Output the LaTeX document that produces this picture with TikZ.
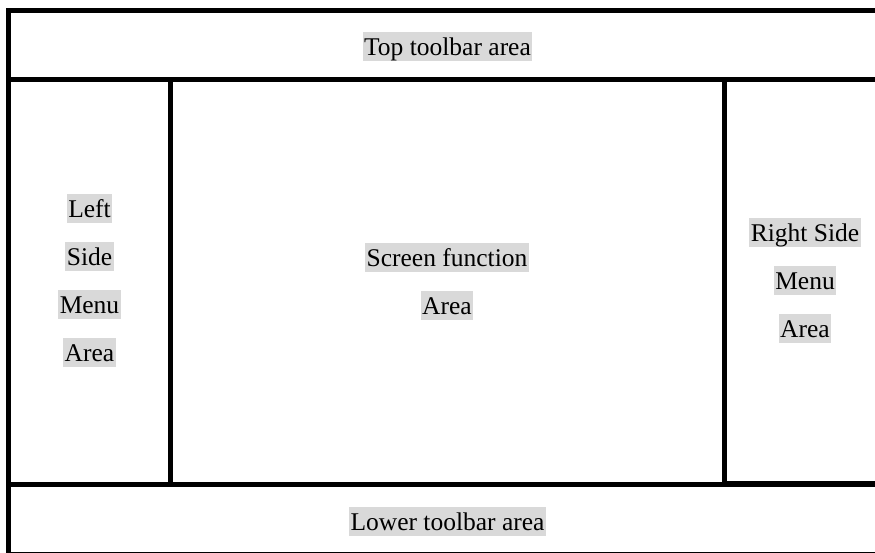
\documentclass[tikz,border=0pt]{standalone}
\usepackage{fontspec}
\setmainfont{Liberation Serif}
\tikzset{
  frame/.style={line width=5pt},
  hl/.style={fill=gray!30, inner xsep=1.5pt, inner ysep=0pt,
    text height=23.5pt, text depth=5.5pt, font=\fontsize{25.5}{29}\selectfont}
}
\begin{document}
\begin{tikzpicture}[x=1pt,y=-1pt]
            \useasboundingbox (0,0) rectangle (875,552);
            \clip (0,0) rectangle (875,552);

            % panels
            \draw[frame] (8,10.5) rectangle (887,79.5);
            \draw[frame] (8,79.5) rectangle (170,484.5);
            \draw[frame] (170,79.5) rectangle (724.5,484.5);
            \draw[frame] (724.5,79) rectangle (887,483);
            \draw[frame] (8,484.5) rectangle (887,554);

            % labels
            \node[hl] (top) at (447.5,46) {Top toolbar area};
            \node[hl] (left1) at (89.5,208.5) {Left};
            \node[hl] (left2) at (89.5,256.5) {Side};
            \node[hl] (left3) at (89.5,304.5) {Menu};
            \node[hl] (left4) at (89.5,352.5) {Area};
            \node[hl] (mid1) at (447,257.5) {Screen function};
            \node[hl] (mid2) at (447,305.5) {Area};
            \node[hl] (right1) at (805,232.5) {Right Side};
            \node[hl] (right2) at (805,280.5) {Menu};
            \node[hl] (right3) at (805,328.5) {Area};
            \node[hl] (low) at (447.5,521) {Lower toolbar area};
        \end{tikzpicture}
\end{document}
